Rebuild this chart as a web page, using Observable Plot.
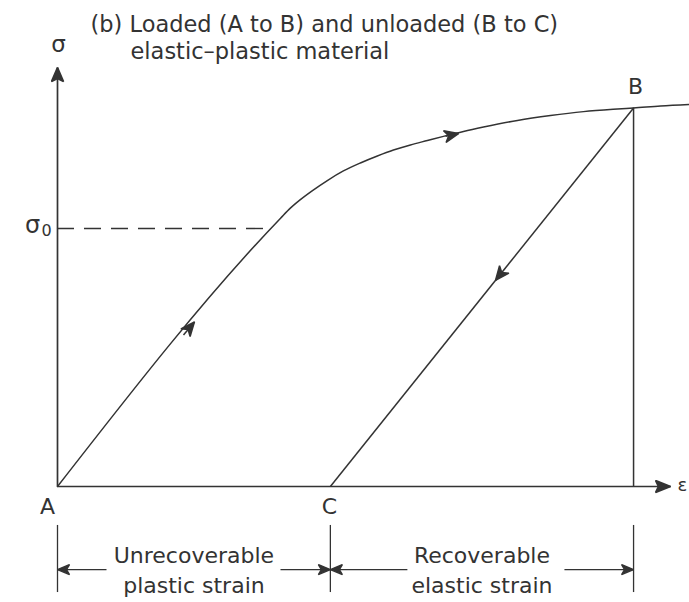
<!DOCTYPE html>
<html><head><meta charset="utf-8">
<script src="https://cdn.jsdelivr.net/npm/d3@7"></script>
<script src="https://cdn.jsdelivr.net/npm/@observablehq/plot@0.6"></script>
<style>body{margin:0;background:#fff;} svg{display:block;}</style>
</head><body><div id="chart"></div>
<script>
// Loading path A -> B (strain ε in arbitrary units, stress σ in units of σ0)
const curveStrain = [0, 0.735, 0.768, 0.801, 0.841, 0.890, 0.943, 0.999, 1.055, 1.108, 1.164, 1.220, 1.273, 1.339, 1.405, 1.517, 1.626, 1.735, 1.847, 1.900, 1.989, 2.084];
const curveStress = [0, 1.039, 1.079, 1.112, 1.147, 1.186, 1.223, 1.254, 1.281, 1.304, 1.324, 1.341, 1.357, 1.376, 1.393, 1.419, 1.438, 1.453, 1.463, 1.467, 1.475, 1.481];
// Key points
const pointNames = ["A", "C", "B"];
const pointStrain = [0, 0.9, 1.9];
const pointStress = [0, 0, 1.467];
// Yield stress
const yieldStress = 1.0;
const yieldStrain = 0.709;
// Axis extents
const strainAxisEnd = 2.022;
const stressAxisEnd = 1.624;
// Direction arrows on the path: [from ε, from σ, to ε, to σ]
const arrowFromStrain = [0.4156, 1.280, 1.4677];
const arrowFromStress = [0.587, 1.357, 0.833];
const arrowToStrain = [0.4518, 1.3225, 1.4446];
const arrowToStress = [0.638, 1.368, 0.799];
// Dimension annotation below the axis
const dimTickTop = -0.151, dimTickBottom = -0.411, dimLevel = -0.322;
const dimFromStrain = [0.1616, 0.7355, 1.154, 1.672];
const dimToStrain = [0, 0.9, 0.9, 1.9];
const dimLabelsTop = ["Unrecoverable", "Recoverable"];
const dimLabelsBottom = ["plastic strain", "elastic strain"];
const dimLabelStrain = [0.45, 1.4];
const titleLines = ["(b) Loaded (A to B) and unloaded (B to C)", "elastic\u2013plastic material"];

const ink = "#333";
const font = "'DejaVu Sans', 'Open Sans', sans-serif";

function barb(len, half, notch) {
  return (color) => {
    const ns = "http://www.w3.org/2000/svg";
    const m = document.createElementNS(ns, "marker");
    m.setAttribute("viewBox", `${-len - 1} ${-half - 1} ${len + 2} ${2 * half + 2}`);
    m.setAttribute("markerWidth", len + 2);
    m.setAttribute("markerHeight", 2 * half + 2);
    m.setAttribute("markerUnits", "userSpaceOnUse");
    m.setAttribute("orient", "auto");
    m.setAttribute("refX", 0);
    m.setAttribute("refY", 0);
    const p = document.createElementNS(ns, "path");
    p.setAttribute("d", `M0,0L${-len},${-half}L${-len + notch},0L${-len},${half}Z`);
    p.setAttribute("fill", color);
    m.appendChild(p);
    return m;
  };
}

const idx = (n) => d3.range(n);
const curveData = curveStrain.map((e, i) => ({e, s: curveStress[i]}));
const pointLabel = (i, dx, dy) => Plot.text([pointNames[i]], {x: pointStrain[i], y: pointStress[i], dx, dy, fontSize: 22, fill: ink});

const chart = Plot.plot({
  width: 689,
  height: 602,
  margin: 0,
  x: {domain: [-0.188, 2.0845], axis: null},
  y: {domain: [-0.4496, 1.8837], axis: null},
  style: {fontFamily: font, color: ink, background: "#fff"},
  marks: [
    // axes
    Plot.link([0], {x1: 0, y1: 0, x2: 0, y2: stressAxisEnd, stroke: ink, strokeWidth: 1.7, markerEnd: barb(14, 6, 3)}),
    Plot.link([0], {x1: 0, y1: 0, x2: strainAxisEnd, y2: 0, stroke: ink, strokeWidth: 1.7, markerEnd: barb(15, 6, 3)}),
    // yield dashed line
    Plot.ruleY([yieldStress], {x1: 0, x2: yieldStrain, stroke: ink, strokeWidth: 1.4, strokeDasharray: "17,10"}),
    // loading curve
    Plot.line(curveData, {x: "e", y: "s", stroke: ink, strokeWidth: 1.5, curve: "monotone-x"}),
    // unloading line C -> B
    Plot.link([0], {x1: pointStrain[1], y1: pointStress[1], x2: pointStrain[2], y2: pointStress[2], stroke: ink, strokeWidth: 1.5}),
    // vertical line from B
    Plot.ruleX([pointStrain[2]], {y1: 0, y2: pointStress[2], stroke: ink, strokeWidth: 1.5}),
    // direction arrowheads
    Plot.link(idx(3), {x1: (i) => arrowFromStrain[i], y1: (i) => arrowFromStress[i], x2: (i) => arrowToStrain[i], y2: (i) => arrowToStress[i], stroke: ink, strokeWidth: 1.5, markerEnd: barb(14, 6, 4)}),
    // point labels
    pointLabel(0, -10, 20),
    pointLabel(1, -1, 20),
    pointLabel(2, 2, -21),
    // axis labels
    Plot.text(["σ"], {x: 0, y: stressAxisEnd, dx: 1, dy: -23, fontSize: 23, fill: ink}),
    Plot.text(["σ"], {x: 0, y: yieldStress, dx: -25, dy: -3, fontSize: 24, fill: ink}),
    Plot.text(["0"], {x: 0, y: yieldStress, dx: -11, dy: 2, fontSize: 16, fill: ink}),
    Plot.text(["ε"], {x: strainAxisEnd, y: 0, dx: 7, dy: -1, fontSize: 18, fill: ink, textAnchor: "start"}),
    // title (second line indented)
    Plot.text([titleLines[0]], {frameAnchor: "top-left", dx: 90, dy: 16, textAnchor: "start", lineAnchor: "top", fontSize: 22.5, fill: ink}),
    Plot.text([titleLines[1]], {frameAnchor: "top-left", dx: 130, dy: 42.5, textAnchor: "start", lineAnchor: "top", fontSize: 22.5, fill: ink}),
    // dimension annotation
    Plot.ruleX(pointStrain, {y1: dimTickTop, y2: dimTickBottom, stroke: ink, strokeWidth: 1.3}),
    Plot.link(idx(4), {x1: (i) => dimFromStrain[i], x2: (i) => dimToStrain[i], y1: dimLevel, y2: dimLevel, stroke: ink, strokeWidth: 1.4, markerEnd: barb(12, 5, 3)}),
    Plot.text(idx(2), {x: (i) => dimLabelStrain[i], y: dimLevel, text: (i) => dimLabelsTop[i], dy: -14, fontSize: 22, fill: ink}),
    Plot.text(idx(2), {x: (i) => dimLabelStrain[i], y: dimLevel, text: (i) => dimLabelsBottom[i], dy: 16, fontSize: 22, fill: ink})
  ]
});
document.getElementById("chart").appendChild(chart);
</script>
</body></html>
